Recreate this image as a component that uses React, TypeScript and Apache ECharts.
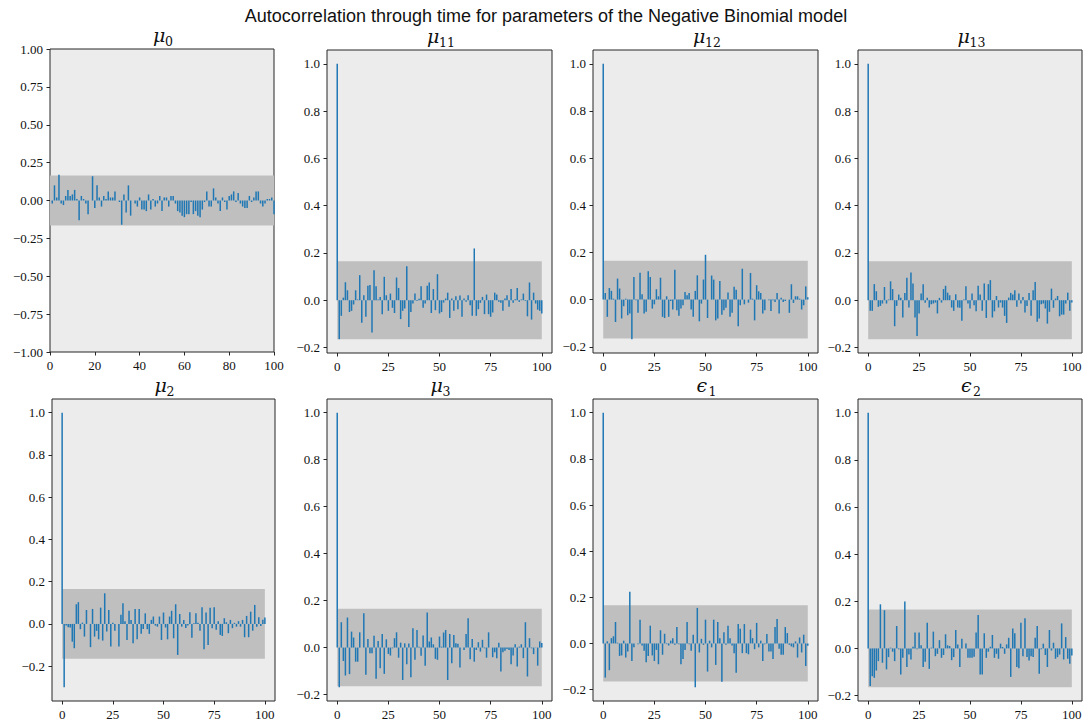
import React, { useEffect, useRef } from "react";
import * as echarts from "echarts";

// ---------- data ----------
const TITLE = "Autocorrelation through time for parameters of the Negative Binomial model";
const PARAM_SYMBOLS = ["μ", "μ", "μ", "μ", "μ", "μ", "ϵ", "ϵ"];
const PARAM_SUBSCRIPTS = ["0", "11", "12", "13", "2", "3", "1", "2"];
const CONF_BAND = 0.165;
const MAX_LAG = 100;

// autocorrelation per lag (index = lag). Lag 0 of mu0 lies under the left spine (hidden).
const MU0 = [null, -0.02, 0.10, 0.02, 0.17, -0.02, -0.03, 0.03, 0.07, 0.03, 0.04,
  0.07, 0.01, -0.13, 0.03, 0.01, -0.02, -0.09, 0.00, 0.16, -0.05,
  0.10, 0.02, -0.04, 0.03, 0.01, 0.06, 0.02, 0.02, 0.06, 0.00,
  -0.01, -0.16, 0.04, -0.08, 0.10, -0.10, 0.00, -0.02, -0.04, 0.02,
  -0.06, -0.06, -0.07, 0.04, -0.06, 0.01, -0.04, -0.02, 0.03, -0.07,
  0.02, 0.02, -0.04, 0.03, 0.03, -0.02, -0.07, -0.08, -0.10, -0.11,
  -0.09, -0.09, -0.01, -0.09, -0.07, -0.10, -0.11, -0.06, -0.01, 0.06,
  -0.04, -0.04, 0.08, 0.02, -0.02, -0.07, 0.02, -0.01, -0.06, 0.03,
  0.04, 0.06, -0.01, 0.05, -0.02, -0.04, -0.05, -0.05, 0.03, -0.01,
  0.02, 0.06, 0.06, -0.02, -0.04, -0.02, 0.01, 0.01, 0.02, -0.09];

const MU11 = [1.0, -0.165, -0.066, 0.011, 0.076, 0.042, -0.05, -0.045, -0.018, 0.042, 0.003,
  0.106, -0.095, 0.021, -0.07, 0.061, 0.064, -0.137, 0.127, 0.059, 0.003,
  0.014, -0.059, 0.099, 0.021, -0.045, 0.028, -0.032, -0.054, 0.096, 0.052,
  -0.08, -0.045, -0.035, 0.144, -0.113, -0.05, -0.014, 0.028, -0.003, 0.006,
  0.059, -0.032, -0.014, 0.061, 0.075, -0.054, 0.047, -0.042, 0.11, -0.056,
  -0.05, -0.01, 0.007, 0.032, -0.075, 0.007, -0.045, 0.017, -0.038, 0.02,
  -0.07, 0.007, -0.007, 0.021, -0.021, -0.066, 0.219, -0.066, -0.038, -0.011,
  0.014, -0.059, 0.024, -0.059, -0.07, -0.052, 0.032, 0.024, -0.007, -0.011,
  -0.045, 0.007, 0.021, -0.028, 0.047, -0.011, 0.004, 0.052, -0.007, 0.003,
  0.028, -0.003, -0.068, 0.075, -0.082, 0.032, -0.014, -0.04, -0.045, -0.056];

const MU12 = [1.0, 0.028, -0.073, 0.049, 0.037, 0.004, -0.095, 0.089, 0.047, -0.08, -0.028,
  0.004, -0.066, -0.059, -0.168, 0.096, -0.003, -0.056, 0.114, 0.023, -0.059,
  -0.052, 0.12, 0.096, -0.038, -0.02, 0.044, 0.014, 0.093, -0.073, -0.078,
  0.014, -0.073, -0.006, -0.042, 0.127, -0.045, -0.068, -0.038, -0.024, 0.032,
  0.018, 0.028, -0.042, -0.073, 0.037, 0.103, -0.092, -0.017, 0.085, 0.19,
  -0.078, 0.0, 0.102, 0.085, -0.088, -0.08, 0.079, -0.064, -0.045, -0.034,
  0.03, -0.073, -0.056, 0.054, 0.042, -0.113, -0.024, 0.131, -0.02, 0.0,
  -0.013, 0.113, 0.004, -0.088, 0.061, 0.035, 0.028, -0.059, -0.045, 0.0,
  -0.003, -0.048, -0.003, -0.01, 0.028, -0.059, 0.008, -0.01, -0.006, 0.0,
  -0.056, 0.065, -0.014, 0.014, 0.014, 0.004, -0.042, -0.024, 0.056, 0.01];

const MU13 = [1.0, -0.045, -0.045, 0.068, 0.038, -0.028, -0.024, -0.014, 0.056, -0.014, 0.003,
  0.08, 0.047, -0.11, -0.024, 0.024, 0.01, -0.073, 0.031, 0.095, -0.031,
  0.117, 0.071, -0.073, -0.151, -0.056, 0.028, 0.068, -0.011, 0.01, -0.031,
  -0.017, -0.014, -0.01, -0.056, 0.01, -0.01, 0.047, 0.061, 0.032, 0.021,
  -0.031, -0.045, 0.025, -0.031, -0.032, -0.087, 0.003, 0.059, -0.014, -0.035,
  0.028, -0.021, -0.047, 0.061, 0.024, -0.045, 0.071, -0.075, 0.068, 0.085,
  -0.073, -0.047, 0.018, -0.031, -0.01, -0.031, -0.066, -0.096, 0.011, 0.031,
  0.024, 0.042, -0.028, 0.028, -0.014, 0.014, -0.052, -0.024, 0.031, -0.066,
  0.042, 0.077, -0.091, -0.077, -0.017, -0.014, -0.035, -0.099, -0.049, 0.049,
  -0.032, 0.007, 0.018, -0.068, -0.061, -0.061, -0.014, 0.032, -0.045, -0.01];

const MU2 = [1.0, -0.30, -0.008, -0.016, -0.017, -0.084, -0.115, 0.093, 0.103, -0.025, 0.006,
  -0.06, 0.066, 0.0, -0.11, 0.071, -0.06, -0.033, -0.073, 0.077, -0.079,
  0.145, -0.036, 0.066, -0.107, 0.006, -0.032, 0.0, -0.107, 0.043, 0.098,
  0.013, -0.076, 0.062, 0.019, -0.092, 0.071, -0.073, 0.071, -0.047, -0.024,
  0.05, -0.025, -0.047, 0.019, 0.035, -0.008, -0.013, 0.035, -0.076, 0.054,
  -0.017, -0.073, 0.035, 0.062, -0.068, 0.093, -0.147, 0.047, -0.013, 0.019,
  -0.019, -0.008, 0.055, -0.065, 0.003, 0.051, 0.005, -0.032, 0.079, -0.12,
  0.054, -0.1, 0.077, -0.02, 0.079, -0.028, 0.013, -0.052, -0.057, 0.027,
  0.008, -0.044, 0.019, -0.02, 0.005, -0.013, 0.013, -0.013, 0.019, -0.063,
  0.038, -0.063, 0.058, -0.032, 0.09, -0.013, 0.032, -0.01, 0.02, 0.03];

const MU3 = [1.0, -0.169, 0.108, -0.057, -0.119, 0.128, -0.113, 0.068, 0.043, -0.06, -0.06,
  0.065, 0.0, 0.146, -0.116, 0.037, -0.024, -0.024, 0.05, -0.133, 0.028,
  -0.088, 0.058, -0.112, 0.035, -0.027, -0.034, -0.003, 0.04, 0.065, -0.043,
  0.021, -0.138, 0.018, -0.071, 0.017, -0.126, 0.082, -0.052, 0.075, 0.004,
  -0.035, 0.051, -0.077, 0.149, 0.026, 0.043, 0.014, -0.048, -0.052, 0.047,
  0.004, 0.064, 0.075, -0.138, 0.058, -0.067, 0.054, 0.018, 0.016, -0.085,
  0.0, -0.01, 0.058, 0.125, -0.05, 0.037, -0.06, -0.01, 0.023, -0.017,
  0.033, -0.003, -0.043, 0.065, 0.0, -0.041, -0.02, -0.045, 0.021, -0.102,
  -0.02, -0.014, -0.006, -0.01, -0.071, -0.034, 0.014, -0.081, 0.004, 0.014,
  -0.045, 0.108, -0.123, 0.04, -0.003, -0.028, 0.001, -0.077, 0.026, 0.02];

const EPS1 = [1.0, -0.148, 0.009, -0.116, 0.023, 0.031, 0.093, 0.003, -0.054, -0.052, 0.012,
  -0.061, -0.035, 0.224, -0.076, -0.017, 0.0, -0.003, 0.103, -0.009, -0.032,
  -0.082, -0.054, 0.077, -0.052, -0.076, -0.028, -0.09, 0.057, -0.049, 0.042,
  -0.003, -0.009, 0.012, 0.023, -0.006, 0.071, -0.003, -0.09, -0.067, -0.028,
  0.093, -0.003, -0.032, 0.038, -0.19, 0.154, -0.039, 0.02, -0.006, 0.103,
  -0.122, 0.012, -0.017, 0.103, -0.093, 0.093, 0.023, -0.166, 0.048, -0.006,
  0.077, 0.023, -0.009, -0.042, -0.127, 0.084, 0.064, -0.042, 0.084, -0.042,
  -0.047, 0.06, 0.023, -0.025, 0.089, -0.017, 0.012, -0.076, -0.003, 0.041,
  -0.035, -0.035, -0.067, 0.071, 0.106, -0.023, -0.049, -0.049, 0.071, 0.045,
  -0.006, -0.013, -0.017, 0.009, -0.061, 0.026, -0.039, 0.038, -0.098, -0.01];

const EPS2 = [1.0, -0.16, -0.118, -0.125, -0.094, -0.054, 0.187, -0.061, 0.162, -0.089, -0.037,
  0.003, -0.014, -0.054, 0.095, -0.004, -0.111, -0.04, 0.199, -0.079, -0.026,
  -0.047, 0.007, 0.067, -0.004, 0.067, 0.013, -0.079, -0.057, 0.109, -0.087,
  0.003, 0.071, -0.033, -0.023, 0.035, -0.04, -0.028, 0.06, 0.013, 0.01,
  -0.05, -0.037, 0.078, 0.017, -0.079, 0.041, 0.0, 0.021, -0.04, -0.04,
  -0.04, -0.035, 0.067, 0.142, -0.111, -0.111, 0.064, -0.04, -0.014, 0.007,
  0.057, -0.04, -0.023, -0.044, 0.02, 0.006, -0.023, 0.017, 0.045, -0.121,
  0.084, 0.064, -0.079, -0.084, 0.109, -0.033, 0.128, -0.037, -0.051, -0.033,
  -0.037, 0.045, 0.095, -0.108, -0.004, 0.02, -0.028, -0.079, 0.078, -0.009,
  0.024, -0.044, -0.037, -0.026, 0.106, -0.047, 0.048, -0.044, -0.065, -0.03];

const SERIES_VALUES = [MU0, MU11, MU12, MU13, MU2, MU3, EPS1, EPS2];

const X_TICKS_FIRST = [0, 20, 40, 60, 80, 100];
const X_TICKS = [0, 25, 50, 75, 100];
const Y_TICKS_FIRST = [-1, -0.75, -0.5, -0.25, 0, 0.25, 0.5, 0.75, 1];
const Y_TICKS = [-0.2, 0, 0.2, 0.4, 0.6, 0.8, 1.0];

// ---------- layout / style ----------
const RECTS = [
  [50, 49, 224, 303], [327, 50, 225, 303], [593, 50, 225, 303], [858, 50, 224, 303],
  [52, 399, 223, 302], [327, 399, 225, 302], [593, 399, 225, 302], [858, 399, 224, 302],
];
const FACE = "#ececec";
const BAND = "#bfbfbf";
const BLUE = "#1f77b4";
const SPINE = "#262626";
const TICK_FONT = "Liberation Serif";
const SYM_SIZE = 19;
const SUB_SIZE = 12.5;
const SYM_W = 11;
const SUB_DIGIT_W = 7;

function fmt(dec: number) {
  return (v: number) => (v < -1e-9 ? "\u2212" : "") + Math.abs(v).toFixed(dec);
}

export default function App() {
  const ref = useRef<HTMLDivElement>(null);
  useEffect(() => {
    document.body.style.margin = "0";
    const chart = echarts.init(ref.current!, null, { renderer: "svg" });
    const grid: any[] = [];
    const xAxis: any[] = [];
    const yAxis: any[] = [];
    const series: any[] = [];
    const graphic: any[] = [];

    graphic.push({
      type: "text", x: 546, y: 16,
      style: { text: TITLE, fontFamily: "Liberation Sans", fontSize: 18, fill: "#111", align: "center", verticalAlign: "middle" },
    });

    SERIES_VALUES.forEach((vals, i) => {
      const [l, t, w, h] = RECTS[i];
      const first = i === 0;
      grid.push({ left: l, top: t, width: w, height: h, show: true, backgroundColor: FACE, borderColor: SPINE, borderWidth: 1 });
      const nums = vals.filter((v) => v != null) as number[];
      let ymin: number, ymax: number;
      if (first) { ymin = -1; ymax = 1; } else {
        const lo = Math.min(Math.min(...nums), -CONF_BAND);
        const hi = Math.max(Math.max(...nums), CONF_BAND);
        const pad = 0.05 * (hi - lo);
        ymin = lo - pad; ymax = hi + pad;
      }
      const xt = first ? X_TICKS_FIRST : X_TICKS;
      const yt = (first ? Y_TICKS_FIRST : Y_TICKS).filter((v) => v >= ymin && v <= ymax);
      const xmin = first ? 0 : -0.05 * MAX_LAG;
      const xmax = first ? MAX_LAG : MAX_LAG * 1.05;
      xAxis.push({
        type: "value", gridIndex: i, min: xmin, max: xmax,
        axisLine: { show: false, onZero: false },
        splitLine: { show: false },
        axisTick: { show: true, inside: false, length: 3.5, customValues: xt, lineStyle: { color: SPINE, width: 1 } },
        axisLabel: { show: true, customValues: xt, margin: 7, fontFamily: TICK_FONT, fontSize: 13, color: "#111", formatter: (v: number) => String(v) },
      });
      yAxis.push({
        type: "value", gridIndex: i, min: ymin, max: ymax,
        axisLine: { show: false, onZero: false },
        splitLine: { show: false },
        axisTick: { show: true, inside: false, length: 3.5, customValues: yt, lineStyle: { color: SPINE, width: 1 } },
        axisLabel: { show: true, customValues: yt, margin: 7, fontFamily: TICK_FONT, fontSize: 13, color: "#111", formatter: fmt(first ? 2 : 1) },
      });
      series.push({
        type: "custom", xAxisIndex: i, yAxisIndex: i, silent: true, z: 2,
        data: [[0, MAX_LAG, -CONF_BAND, CONF_BAND]],
        encode: { x: [0, 1], y: [2, 3] },
        renderItem: (_p: any, api: any) => {
          const a = api.coord([api.value(0), api.value(3)]);
          const b = api.coord([api.value(1), api.value(2)]);
          return { type: "rect", shape: { x: a[0], y: a[1], width: b[0] - a[0], height: b[1] - a[1] }, style: { fill: BAND } };
        },
      });
      const pts = vals.map((v, lag) => (v == null ? null : [lag, v])).filter((p) => p != null);
      series.push({
        type: "custom", xAxisIndex: i, yAxisIndex: i, silent: true, z: 3,
        data: pts,
        encode: { x: 0, y: 1 },
        renderItem: (_p: any, api: any) => {
          const x = api.value(0);
          const a = api.coord([x, 0]);
          const b = api.coord([x, api.value(1)]);
          return { type: "line", shape: { x1: a[0], y1: a[1], x2: b[0], y2: b[1] }, style: { stroke: BLUE, lineWidth: 1.5 } };
        },
      });
      // subplot title: italic symbol with lowered subscript
      const sub = PARAM_SUBSCRIPTS[i];
      const total = SYM_W + sub.length * SUB_DIGIT_W;
      const x0 = l + w / 2 - total / 2;
      const base = t - 5;
      graphic.push({
        type: "text", x: x0, y: base,
        style: { text: PARAM_SYMBOLS[i], fontFamily: "DejaVu Serif", fontStyle: "italic", fontSize: SYM_SIZE, fill: "#111", align: "left", verticalAlign: "bottom" },
      });
      graphic.push({
        type: "text", x: x0 + SYM_W + 1, y: base + 4,
        style: { text: sub, fontFamily: "DejaVu Serif", fontSize: SUB_SIZE, fill: "#111", align: "left", verticalAlign: "bottom" },
      });
    });

    chart.setOption({ animation: false, grid, xAxis, yAxis, series, graphic });
    return () => chart.dispose();
  }, []);
  return <div ref={ref} style={{ width: 1085, height: 724 }} />;
}
